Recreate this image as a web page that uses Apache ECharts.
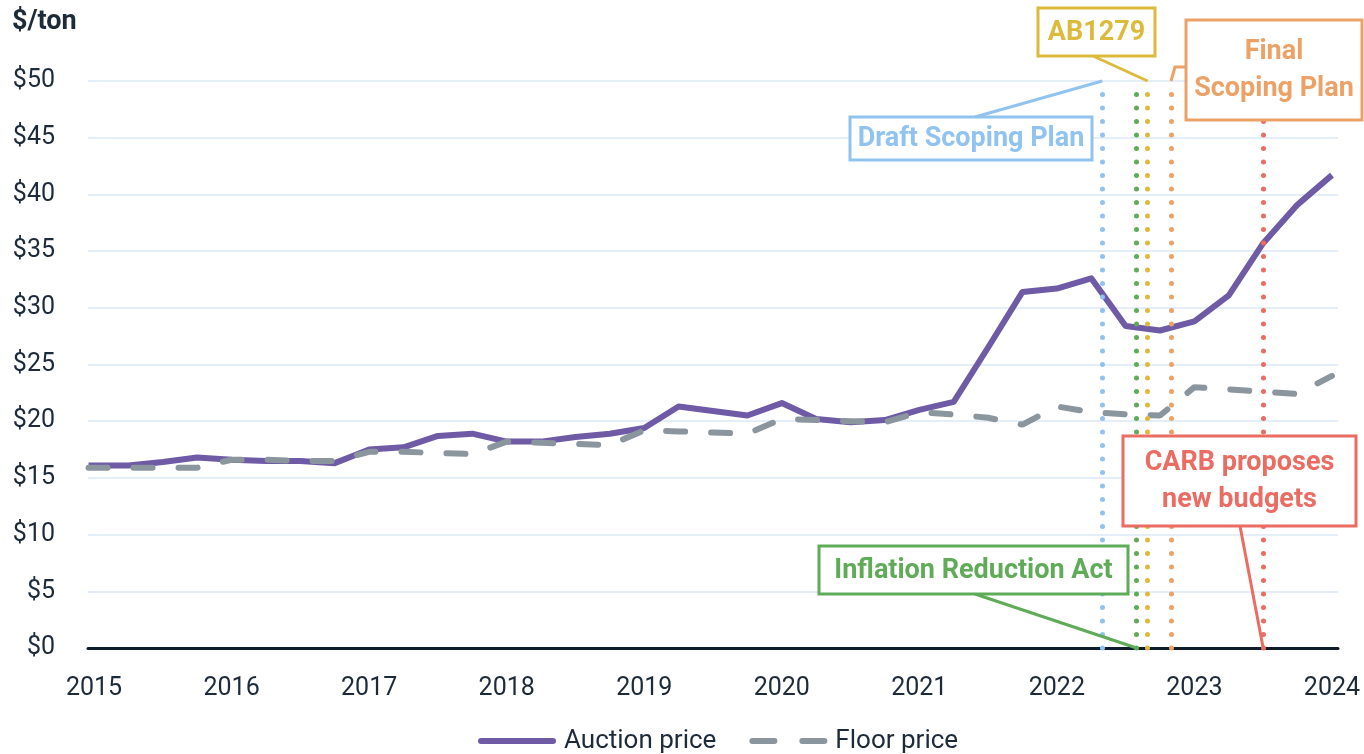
<!DOCTYPE html>
<html>
<head>
<meta charset="utf-8">
<script src="https://cdn.jsdelivr.net/npm/echarts@6/dist/echarts.min.js"></script>
<style>
  html, body { margin: 0; padding: 0; background: #fff; }
  #chart { width: 1364px; height: 754px; }
</style>
</head>
<body>
<div id="chart"></div>
<script>
// 拍卖日期（年份小数，季度）
const dates = [
  2014.96, 2015.25, 2015.5, 2015.75, 2016.0, 2016.25, 2016.5, 2016.75,
  2017.0, 2017.25, 2017.5, 2017.75, 2018.0, 2018.25, 2018.5, 2018.75,
  2019.0, 2019.25, 2019.5, 2019.75, 2020.0, 2020.25, 2020.5, 2020.75,
  2021.0, 2021.25, 2021.5, 2021.75, 2022.0, 2022.25, 2022.5, 2022.75,
  2023.0, 2023.25, 2023.5, 2023.75, 2024.0
]
const auctionPrice = [
  16.1, 16.1, 16.4, 16.8, 16.6, 16.5, 16.5, 16.3,
  17.5, 17.7, 18.7, 18.9, 18.2, 18.2, 18.6, 18.9,
  19.4, 21.3, 20.9, 20.5, 21.6, 20.2, 19.9, 20.1,
  21.0, 21.7, 26.5, 31.4, 31.7, 32.6, 28.4, 28.0,
  28.8, 31.1, 35.7, 39.1, 41.7
]
const floorPrice = [
  15.9, 15.9, 15.9, 15.9, 16.6, 16.6, 16.5, 16.5,
  17.3, 17.3, 17.2, 17.1, 18.2, 18.1, 18.0, 17.9,
  19.2, 19.1, 19.0, 18.9, 20.2, 20.1, 20.0, 19.9,
  20.8, 20.6, 20.3, 19.7, 21.3, 20.8, 20.6, 20.5,
  23.0, 22.8, 22.6, 22.4, 24.0
]
const yearTicks = [2015, 2016, 2017, 2018, 2019, 2020, 2021, 2022, 2023, 2024]

// 政策事件
const eventNames = ['Draft Scoping Plan', 'Inflation Reduction Act', 'AB1279', 'Final Scoping Plan', 'CARB proposes new budgets']
const eventDates = [2022.33, 2022.58, 2022.66, 2022.83, 2023.5]
const eventColors = ['#90c3ef', '#5fab58', '#dcbb3c', '#eca266', '#ea6c62']

const FONT = 'Roboto'
const INK = '#1c2a3a'
const PURPLE = '#6e5aa5'
const GRAY = '#8a959d'

// 图例图标：实线与虚线
const solidIcon = 'path://M3,0H75A3,3,0,0,1,75,6H3A3,3,0,0,1,3,0Z'
const dashIcon = 'path://M3,0H25A3,3,0,0,1,25,6H3A3,3,0,0,1,3,0ZM53,0H75A3,3,0,0,1,75,6H53A3,3,0,0,1,53,0Z'

const chartDom = document.getElementById('chart')
const chart = echarts.init(chartDom)

const zip = (xs, ys) => xs.map((x, i) => [x, ys[i]])

chart.setOption({
  animation: false,
  textStyle: { fontFamily: FONT },
  grid: { left: 88, right: 26, top: 81, bottom: 106 },
  legend: {
    top: 723,
    left: 473,
    itemWidth: 78,
    itemHeight: 6,
    itemGap: 33,
    textStyle: { fontSize: 26, color: INK, fontFamily: FONT, padding: [0, 0, 0, 3] },
    data: [
      { name: 'Auction price', icon: solidIcon, itemStyle: { color: PURPLE } },
      { name: 'Floor price', icon: dashIcon, itemStyle: { color: GRAY } }
    ]
  },
  xAxis: {
    type: 'value',
    min: 2014.956,
    max: 2024.044,
    axisLine: { show: true, lineStyle: { color: '#0e1c2c', width: 3 } },
    axisTick: { show: false },
    splitLine: { show: false },
    axisLabel: {
      customValues: yearTicks,
      fontSize: 25, color: INK, margin: 28,
      formatter: (v) => String(Math.round(v))
    }
  },
  yAxis: {
    type: 'value',
    min: 0, max: 50, interval: 5,
    axisLine: { show: false },
    axisTick: { show: false },
    splitLine: { lineStyle: { color: '#e4eef9', width: 2 } },
    axisLabel: {
      fontSize: 25, color: INK, margin: 33,
      formatter: (v) => '$' + v
    }
  },
  series: [
    {
      name: 'Auction price',
      type: 'line',
      data: zip(dates, auctionPrice),
      showSymbol: false,
      symbol: 'none',
      itemStyle: { color: PURPLE },
      lineStyle: { color: PURPLE, width: 6, join: 'round' },
      z: 3
    },
    {
      name: 'Floor price',
      type: 'line',
      data: zip(dates, floorPrice),
      showSymbol: false,
      symbol: 'none',
      itemStyle: { color: GRAY },
      lineStyle: { color: GRAY, width: 6, type: [19, 26], cap: 'round' },
      z: 4
    },
    {
      name: 'events',
      type: 'line',
      data: [],
      z: 5,
      markLine: {
        silent: true,
        symbol: 'none',
        label: { show: false },
        data: eventDates.map((d, i) => [
          { coord: [d, 0], lineStyle: { color: eventColors[i], width: 5, type: [0, 13.5], cap: 'round' } },
          { coord: [d, 49.4] }
        ])
      }
    }
  ]
})

// 注释框与连接线
function drawNotes() {
  const px = (x, y) => chart.convertToPixel({ gridIndex: 0 }, [x, y])
  const boxes = [
    { i: 0, x: 850, y: 117, w: 242, h: 43, lines: ['Draft Scoping Plan'], from: [975, 117], to: px(eventDates[0], 50) },
    { i: 1, x: 819, y: 546, w: 309, h: 48, lines: ['Inflation Reduction Act'], from: [975, 594], to: px(eventDates[1], 0) },
    { i: 2, x: 1038, y: 8, w: 117, h: 48, lines: ['AB1279'], from: [1093, 56], to: px(eventDates[2], 50) },
    { i: 3, x: 1186, y: 20, w: 176, h: 100, lines: ['Final', 'Scoping Plan'], from: [1186, 67], mid: [1175, 67], to: px(eventDates[3], 50) },
    { i: 4, x: 1123, y: 436, w: 233, h: 90, lines: ['CARB proposes', 'new budgets'], from: [1240, 526], to: px(eventDates[4], 0) }
  ]
  const els = [{
    type: 'text', left: 12, top: 9,
    style: { text: '$/ton', font: 'bold 27px ' + FONT, fill: INK }
  }]
  boxes.forEach((b) => {
    const c = eventColors[b.i]
    const pts = b.mid ? [b.from, b.mid, b.to] : [b.from, b.to]
    els.push({
      type: 'polyline', z: 20,
      shape: { points: pts },
      style: { stroke: c, lineWidth: 3, fill: null }
    })
    els.push({
      type: 'rect', z: 21,
      shape: { x: b.x, y: b.y, width: b.w, height: b.h },
      style: { fill: '#fff', stroke: c, lineWidth: 3 }
    })
    const lh = 37
    const top = b.y + b.h / 2 - (b.lines.length - 1) * lh / 2
    b.lines.forEach((t, k) => {
      els.push({
        type: 'text', z: 22,
        x: b.x + b.w / 2, y: top + k * lh + 1,
        style: { text: t, font: 'bold 27px ' + FONT, fill: c, align: 'center', verticalAlign: 'middle' }
      })
    })
  })
  chart.setOption({ graphic: els }, { replaceMerge: ['graphic'] })
}
drawNotes()

window.addEventListener('resize', () => { chart.resize(); drawNotes() })
</script>
</body>
</html>
